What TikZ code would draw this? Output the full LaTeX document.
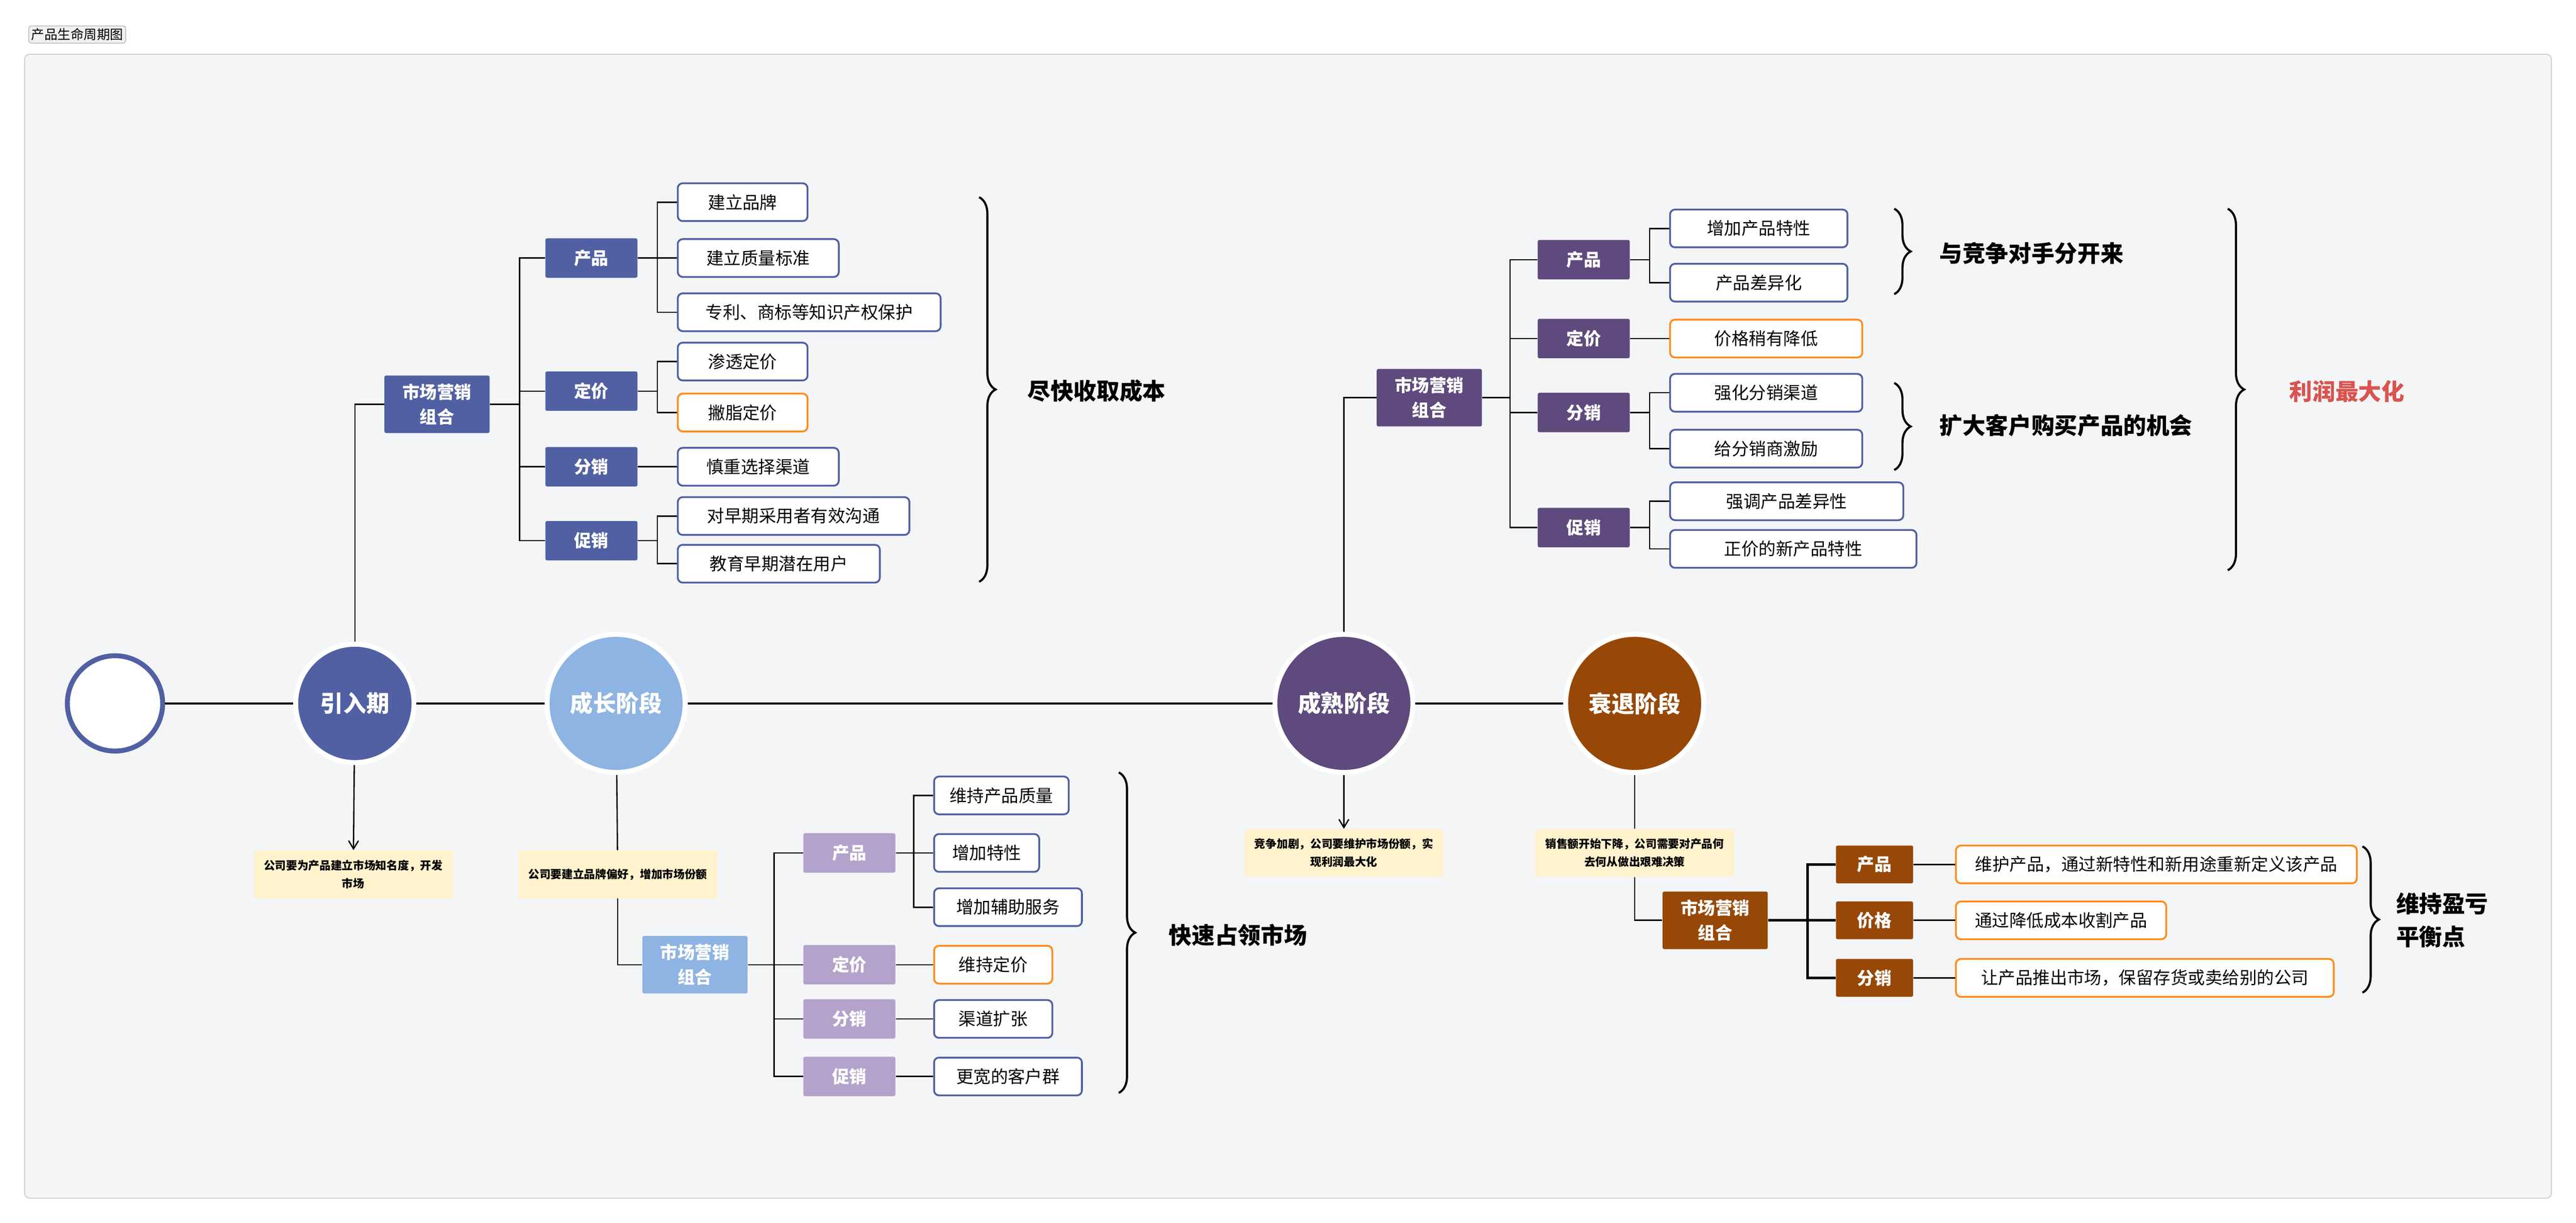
\documentclass[tikz,border=0pt]{standalone}
\usepackage{fontspec}
\setmainfont{Noto Sans CJK SC}
\usetikzlibrary{decorations.pathreplacing,arrows.meta}
\definecolor{bg}{HTML}{F4F5F7}
\definecolor{blu}{HTML}{5060A3}
\definecolor{lblu}{HTML}{8DB4E2}
\definecolor{pur}{HTML}{5E4A7D}
\definecolor{lpur}{HTML}{B3A2CB}
\definecolor{brn}{HTML}{974806}
\definecolor{org}{HTML}{FF8C1A}
\definecolor{note}{HTML}{FFF2CC}
\definecolor{redt}{HTML}{D9534F}
\begin{document}
\begin{tikzpicture}[x=1pt,y=-1pt,
 leaf/.style={draw=blu,line width=1.1pt,fill=white,rounded corners=3pt,minimum height=23pt,anchor=west,inner xsep=8pt,font=\fontsize{10.5}{12}\selectfont},
 oleaf/.style={leaf,draw=org},
 br/.style={fill=#1,text=white,minimum width=56pt,minimum height=24pt,font=\bfseries\fontsize{10.5}{12}\selectfont,rounded corners=1pt},
 mk/.style={fill=#1,text=white,minimum width=64pt,minimum height=35pt,align=center,font=\bfseries\fontsize{10.5}{15}\selectfont,rounded corners=1pt},
 stage/.style={circle,fill=#1,draw=white,line width=3pt,minimum size=84pt,text=white,font=\bfseries\fontsize{14}{16}\selectfont},
 nt/.style={fill=note,minimum width=121pt,minimum height=29pt,align=center,font=\bfseries\fontsize{6.8}{11}\selectfont},
 ln/.style={line width=0.8pt},
 ar/.style={ln,-{Straight Barb[length=5pt,width=6pt]}},
 brace/.style={decorate,decoration={brace,amplitude=10pt},line width=1.3pt},
 bl/.style={font=\bfseries\fontsize{14}{20}\selectfont,anchor=west,align=left}]
\useasboundingbox (0,0) rectangle (1568,744);
\fill[white] (0,0) rectangle (1568,744);
\node[draw=gray!60,fill=gray!12,rounded corners=1.5pt,inner sep=1.5pt,font=\fontsize{8}{9}\selectfont] (tag) at (47,21) {产品生命周期图};
\draw[gray!50,fill=bg,rounded corners=3pt] (15,33) rectangle (1553,729);

% stages
\node[circle,fill=white,draw=blu,line width=3pt,minimum size=58pt] (s0) at (70,428) {};
\node[stage=blu,minimum size=72pt] (s1) at (216,428) {引入期};
\node[stage=lblu] (s2) at (375,428) {成长阶段};
\node[stage=pur] (s3) at (818,428) {成熟阶段};
\node[stage=brn] (s4) at (995,428) {衰退阶段};
\draw[line width=1.3pt] (s0) -- (s1); \draw[line width=1.3pt] (s1) -- (s2);
\draw[line width=1.3pt] (s2) -- (s3); \draw[line width=1.3pt] (s3) -- (s4);

% notes
\node[nt] (n1) at (215,532) {公司要为产品建立市场知名度，开发\\市场};
\node[nt] (n2) at (376,532) {公司要建立品牌偏好，增加市场份额};
\node[nt] (n3) at (818,519) {竞争加剧，公司要维护市场份额，实\\现利润最大化};
\node[nt] (n4) at (995,519) {销售额开始下降，公司需要对产品何\\去何从做出艰难决策};
\draw[ar] (s1) -- (n1);
\draw[ln] (s2) -- (n2);
\draw[ar] (s3) -- (n3);
\draw[ln] (s4) -- (n4);

% ===== intro tree
\node[mk=blu] (m1) at (266,246) {市场营销\\组合};
\draw[ln] (s1) |- (m1);
\node[br=blu] (a1) at (360,157) {产品};
\node[br=blu] (a2) at (360,238) {定价};
\node[br=blu] (a3) at (360,284) {分销};
\node[br=blu] (a4) at (360,329) {促销};
\foreach \b in {a1,a2,a3,a4} \draw[ln] (m1.east) -- ++(18,0) |- (\b.west);
\node[leaf,minimum width=79pt] (a11) at (412,123) {建立品牌};
\node[leaf,minimum width=98pt] (a12) at (412,157) {建立质量标准};
\node[leaf,minimum width=160pt] (a13) at (412,190) {专利、商标等知识产权保护};
\node[leaf,minimum width=79pt] (a21) at (412,220) {渗透定价};
\node[oleaf,minimum width=79pt] (a22) at (412,251) {撇脂定价};
\node[leaf,minimum width=98pt] (a31) at (412,284) {慎重选择渠道};
\node[leaf,minimum width=141pt] (a41) at (412,314) {对早期采用者有效沟通};
\node[leaf,minimum width=123pt] (a42) at (412,343) {教育早期潜在用户};
\foreach \b in {a11,a12,a13} \draw[ln] (a1.east) -- ++(12,0) |- (\b.west);
\foreach \b in {a21,a22} \draw[ln] (a2.east) -- ++(12,0) |- (\b.west);
\draw[ln] (a3.east) -- (a31.west);
\foreach \b in {a41,a42} \draw[ln] (a4.east) -- ++(12,0) |- (\b.west);
\draw[brace] (596,120) -- (596,354);
\node[bl] (t1) at (622,238) {尽快收取成本};

% ===== growth tree
\node[mk=lblu] (m2) at (423,587) {市场营销\\组合};
\draw[ln] (n2) |- (m2);
\node[br=lpur] (b1) at (517,519) {产品};
\node[br=lpur] (b2) at (517,587) {定价};
\node[br=lpur] (b3) at (517,620) {分销};
\node[br=lpur] (b4) at (517,655) {促销};
\foreach \b in {b1,b2,b3,b4} \draw[ln] (m2.east) -- ++(16,0) |- (\b.west);
\node[leaf,minimum width=82pt] (b11) at (568,484) {维持产品质量};
\node[leaf,minimum width=64pt] (b12) at (568,519) {增加特性};
\node[leaf,minimum width=90pt] (b13) at (568,552) {增加辅助服务};
\node[oleaf,minimum width=72pt] (b21) at (568,587) {维持定价};
\node[leaf,minimum width=72pt] (b31) at (568,620) {渠道扩张};
\node[leaf,minimum width=90pt] (b41) at (568,655) {更宽的客户群};
\foreach \b in {b11,b12,b13} \draw[ln] (b1.east) -- ++(11,0) |- (\b.west);
\draw[ln] (b2.east) -- (b21.west);
\draw[ln] (b3.east) -- (b31.west);
\draw[ln] (b4.east) -- (b41.west);
\draw[brace] (681,470) -- (681,665);
\node[bl] (t2) at (708,569) {快速占领市场};

% ===== maturity tree
\node[mk=pur] (m3) at (870,242) {市场营销\\组合};
\draw[ln] (s3) |- (m3);
\node[br=pur] (c1) at (964,158) {产品};
\node[br=pur] (c2) at (964,206) {定价};
\node[br=pur] (c3) at (964,251) {分销};
\node[br=pur] (c4) at (964,321) {促销};
\foreach \b in {c1,c2,c3,c4} \draw[ln] (m3.east) -- ++(17,0) |- (\b.west);
\node[leaf,minimum width=108pt] (c11) at (1016,139) {增加产品特性};
\node[leaf,minimum width=108pt] (c12) at (1016,172) {产品差异化};
\node[oleaf,minimum width=117pt] (c21) at (1016,206) {价格稍有降低};
\node[leaf,minimum width=117pt] (c31) at (1016,239) {强化分销渠道};
\node[leaf,minimum width=117pt] (c32) at (1016,273) {给分销商激励};
\node[leaf,minimum width=142pt] (c41) at (1016,305) {强调产品差异性};
\node[leaf,minimum width=150pt] (c42) at (1016,334) {正价的新产品特性};
\foreach \b in {c11,c12} \draw[ln] (c1.east) -- ++(12,0) |- (\b.west);
\draw[ln] (c2.east) -- (c21.west);
\foreach \b in {c31,c32} \draw[ln] (c3.east) -- ++(12,0) |- (\b.west);
\foreach \b in {c41,c42} \draw[ln] (c4.east) -- ++(12,0) |- (\b.west);
\draw[brace] (1153,127) -- (1153,179);
\node[bl] (t3) at (1177,154) {与竞争对手分开来};
\draw[brace] (1153,233) -- (1153,286);
\node[bl] (t4) at (1177,259) {扩大客户购买产品的机会};
\draw[brace] (1356,127) -- (1356,347);
\node[bl,text=redt] (t5) at (1390,238) {利润最大化};

% ===== decline tree
\node[mk=brn] (m4) at (1044,560) {市场营销\\组合};
\draw[ln] (n4) |- (m4);
\node[br=brn,minimum width=47pt,minimum height=23pt] (d1) at (1141,526) {产品};
\node[br=brn,minimum width=47pt,minimum height=23pt] (d2) at (1141,560) {价格};
\node[br=brn,minimum width=47pt,minimum height=23pt] (d3) at (1141,595) {分销};
\foreach \b in {d1,d2,d3} \draw[line width=1.6pt] (m4.east) -- ++(24,0) |- (\b.west);
\node[oleaf,minimum width=244pt] (d11) at (1190,526) {维护产品，通过新特性和新用途重新定义该产品};
\node[oleaf,minimum width=128pt] (d21) at (1190,560) {通过降低成本收割产品};
\node[oleaf,minimum width=230pt] (d31) at (1190,595) {让产品推出市场，保留存货或卖给别的公司};
\draw[ln] (d1.east) -- (d11.west);
\draw[ln] (d2.east) -- (d21.west);
\draw[ln] (d3.east) -- (d31.west);
\draw[brace] (1438,515) -- (1438,604);
\node[bl] (t6) at (1455,560) {维持盈亏\\平衡点};
\end{tikzpicture}
\end{document}
